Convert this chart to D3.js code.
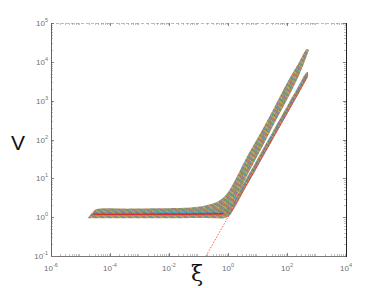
<!DOCTYPE html>
<html>
<head>
<meta charset="utf-8">
<script src="https://d3js.org/d3.v7.min.js"></script>
<style>
  body { margin: 0; background: #fff; }
  .tick-label { font-family: 'Liberation Sans', Arial, sans-serif; fill: #707070; font-size: 8px; }
  .axis-title { font-family: 'Liberation Sans', Arial, sans-serif; fill: #111; }
</style>
</head>
<body>
<svg id="chart" width="382" height="288"></svg>
<script>
// tick exponents (labels are 10^n)
const xTickExps = [-6, -4, -2, 0, 2, 4];
const yTickExps = [-1, 0, 1, 2, 3, 4, 5];

// upper bundle (flat part + steep branch), edges as [xi, V]
const upperTop = [[1.8e-5, 0.96], [2.6e-5, 1.35], [3.4e-5, 1.6], [4.8e-4, 1.66], [5.0e-3, 1.7], [0.052, 1.78],
  [0.112, 1.88], [0.29, 2.2], [0.54, 2.75], [1.0, 4.41], [1.73, 9.0], [2.98, 20.6], [5.57, 50.2],
  [10.4, 115], [21.0, 298], [45.8, 920], [108, 3200], [236, 8770], [476, 21400], [557, 20100]];
const upperBottom = [[1.8e-5, 0.94], [5.0e-3, 0.94], [0.112, 0.95], [0.5, 0.98], [0.9, 1.25],
  [1.3, 1.85], [1.87, 3.28], [2.98, 6.3], [5.57, 16.3], [10.4, 39.6], [17.9, 85.7], [31, 197],
  [57.9, 479], [108, 1167], [202, 3010], [349, 7800], [557, 20100]];

// lower bundle (branch hugging the dotted asymptote)
const lowerTop = [[0.36, 1.2], [0.73, 1.35], [1.17, 1.8], [1.73, 3.0], [2.98, 6.3], [5.57, 14.5],
  [10.4, 34], [17.9, 71], [31, 148], [67.7, 425], [108, 800], [187, 1660], [276, 2830],
  [407, 4800], [515, 5600]];
const lowerBottom = [[0.36, 0.94], [0.8, 0.95], [1.2, 1.15], [1.73, 1.87], [2.98, 3.92], [5.57, 9.0],
  [10.4, 21.1], [17.9, 44.1], [31, 92], [67.7, 265], [108, 497], [187, 1035], [276, 1768],
  [407, 3010], [515, 4300]];

// a few individual strands that stand out of the bundle
const redFlat = [[2.6e-5, 1.19], [1e-3, 1.19], [0.05, 1.2], [0.3, 1.21], [0.7, 1.24]];
const redRise = [[0.7, 1.24], [1.4, 1.5], [2.98, 4.1], [10.4, 22], [31, 96], [108, 515], [515, 4450]];
const blueCurve = [[3e-5, 1.28], [1e-2, 1.28], [0.1, 1.29], [0.6, 1.36], [1.2, 1.75], [2.98, 5.3],
  [10.4, 28], [31, 122], [108, 660], [515, 5000]];
const cyanCurve = [[3e-3, 1.33], [0.03, 1.32], [0.3, 1.36]];
const orangeCurve = [[3e-5, 1.1], [1e-2, 1.1], [0.2, 1.12], [0.6, 1.18]];

// dotted asymptote
const asymXi = [0.18, 515];
const asymV = [0.1, 4300];

const margin = { left: 51, top: 23, right: 36, bottom: 32 };
const width = 382, height = 288;
const svg = d3.select("#chart");

const x = d3.scaleLog().domain([1e-6, 1e4]).range([margin.left, width - margin.right]);
const y = d3.scaleLog().domain([1e-1, 1e5]).range([height - margin.bottom, margin.top]);

const x0 = margin.left, x1 = width - margin.right;
const y0 = height - margin.bottom, y1 = margin.top;

// speckled fill that mimics hundreds of overplotted coloured lines
const speckle = ["#8c9660", "#b48a50", "#7886a8", "#c4a850", "#9a7890", "#78a060", "#b87058",
  "#a69a70", "#68a0b0", "#bca878", "#949060"];
const defs = svg.append("defs");
const pat = defs.append("pattern").attr("id", "mix")
  .attr("patternUnits", "userSpaceOnUse").attr("width", 7).attr("height", 5);
for (let i = 0; i < 7; i++) {
  for (let j = 0; j < 5; j++) {
    pat.append("rect").attr("x", i).attr("y", j).attr("width", 1).attr("height", 1)
      .attr("fill", speckle[(i * 4 + j * 7 + (i * j) % 3) % speckle.length]);
  }
}
defs.append("clipPath").attr("id", "plotclip").append("rect")
  .attr("x", x0).attr("y", y1).attr("width", x1 - x0).attr("height", y0 - y1);

// top border: faint dotted line as in the reference
svg.append("line").attr("x1", x0).attr("x2", x1).attr("y1", y1 + 0.5).attr("y2", y1 + 0.5)
  .attr("stroke", "#bbb").attr("stroke-dasharray", "3,2");

// minor + major ticks
const minorX = [], minorY = [];
for (let e = -6; e < 4; e++) for (let k = 2; k < 10; k++) minorX.push(k * Math.pow(10, e));
for (let e = -1; e < 5; e++) for (let k = 2; k < 10; k++) minorY.push(k * Math.pow(10, e));

const ticks = svg.append("g").attr("stroke", "#999").attr("stroke-width", 0.6);
minorX.forEach(v => {
  const px = Math.round(x(v)) + 0.5;
  ticks.append("line").attr("x1", px).attr("x2", px).attr("y1", y0).attr("y2", y0 - 2);
  ticks.append("line").attr("x1", px).attr("x2", px).attr("y1", y1).attr("y2", y1 + 2);
});
minorY.forEach(v => {
  const py = Math.round(y(v)) + 0.5;
  ticks.append("line").attr("x1", x0).attr("x2", x0 + 2).attr("y1", py).attr("y2", py);
  ticks.append("line").attr("x1", x1).attr("x2", x1 - 2).attr("y1", py).attr("y2", py);
});
const major = svg.append("g").attr("stroke", "#666").attr("stroke-width", 0.8);
xTickExps.forEach(e => {
  const px = Math.round(x(Math.pow(10, e))) + 0.5;
  major.append("line").attr("x1", px).attr("x2", px).attr("y1", y0).attr("y2", y0 - 3);
  major.append("line").attr("x1", px).attr("x2", px).attr("y1", y1).attr("y2", y1 + 3);
});
yTickExps.forEach(e => {
  const py = Math.round(y(Math.pow(10, e))) + 0.5;
  major.append("line").attr("x1", x0).attr("x2", x0 + 3).attr("y1", py).attr("y2", py);
  major.append("line").attr("x1", x1).attr("x2", x1 - 3).attr("y1", py).attr("y2", py);
});

// data
const plot = svg.append("g").attr("clip-path", "url(#plotclip)");
const line = d3.line().x(d => x(d[0])).y(d => y(d[1])).curve(d3.curveMonotoneX);
const edge = d3.line().x(d => x(d[0])).y(d => y(d[1])).curve(d3.curveCatmullRom.alpha(0.5));

function band(top, bottom) {
  return edge(top) + "L" + edge(bottom.slice().reverse()).slice(1) + "Z";
}
plot.append("path").attr("d", band(upperTop, upperBottom)).attr("fill", "url(#mix)");
plot.append("path").attr("d", band(lowerTop, lowerBottom)).attr("fill", "url(#mix)");

plot.append("path").attr("d", line(orangeCurve)).attr("fill", "none")
  .attr("stroke", "#d9822b").attr("stroke-width", 0.9).attr("opacity", 0.7);
plot.append("path").attr("d", line(cyanCurve)).attr("fill", "none")
  .attr("stroke", "#3fb5d8").attr("stroke-width", 0.9).attr("opacity", 0.8);
plot.append("path").attr("d", line(blueCurve)).attr("fill", "none")
  .attr("stroke", "#2f5fc0").attr("stroke-width", 0.6).attr("opacity", 0.5);
plot.append("path").attr("d", line(redFlat)).attr("fill", "none")
  .attr("stroke", "#e01818").attr("stroke-width", 1.2);
plot.append("path").attr("d", line(redRise)).attr("fill", "none")
  .attr("stroke", "#e02020").attr("stroke-width", 0.6).attr("opacity", 0.55);

plot.append("line")
  .attr("x1", x(asymXi[0])).attr("y1", y(asymV[0]))
  .attr("x2", x(asymXi[1])).attr("y2", y(asymV[1]))
  .attr("stroke", "#ff3030").attr("stroke-width", 0.8).attr("stroke-dasharray", "1.5,1.5");

// spines
svg.append("line").attr("x1", x0 + 0.5).attr("x2", x0 + 0.5).attr("y1", y1).attr("y2", y0)
  .attr("stroke", "#666");
svg.append("line").attr("x1", x0).attr("x2", x1).attr("y1", y0 + 0.5).attr("y2", y0 + 0.5)
  .attr("stroke", "#777");
svg.append("line").attr("x1", x1 + 0.5).attr("x2", x1 + 0.5).attr("y1", y1).attr("y2", y0 + 1)
  .attr("stroke", "#222");

// tick labels
xTickExps.forEach(e => {
  const t = svg.append("text").attr("class", "tick-label")
    .attr("x", x(Math.pow(10, e))).attr("y", y0 + 15).attr("text-anchor", "middle");
  t.append("tspan").text("10");
  t.append("tspan").attr("dy", -4).attr("font-size", "5.5px").text(e);
});
yTickExps.forEach(e => {
  const t = svg.append("text").attr("class", "tick-label")
    .attr("x", x0 - 3).attr("y", y(Math.pow(10, e)) + 3).attr("text-anchor", "end");
  t.append("tspan").text("10");
  t.append("tspan").attr("dy", -4).attr("font-size", "5.5px").text(e);
});

// axis titles
svg.append("text").attr("class", "axis-title").attr("x", 18).attr("y", 150)
  .attr("text-anchor", "middle").attr("font-size", "21px").text("V");
svg.append("text").attr("class", "axis-title").attr("x", 197).attr("y", 281)
  .attr("text-anchor", "middle").attr("font-size", "22px")
  .style("font-family", "'DejaVu Serif', serif").text("ξ");
</script>
</body>
</html>
